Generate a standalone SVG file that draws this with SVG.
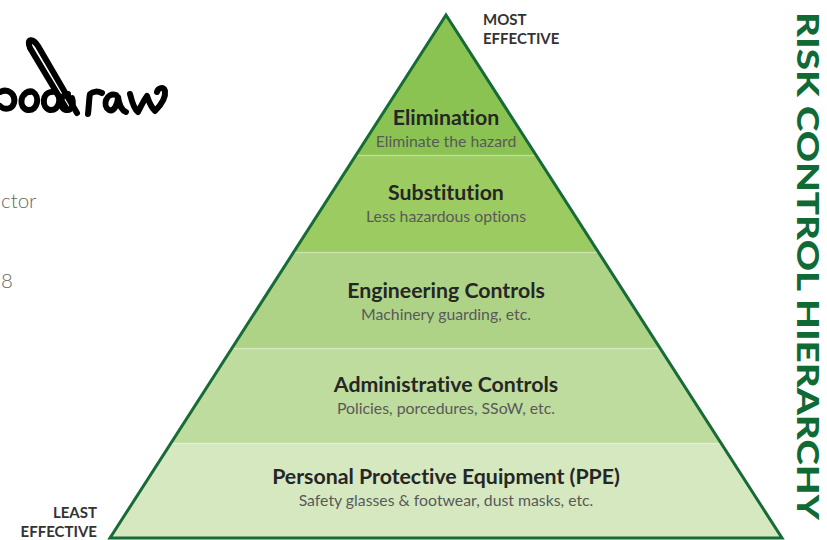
<svg xmlns="http://www.w3.org/2000/svg" width="827" height="540" viewBox="0 0 827 540">
  <style>
    text { font-variant-ligatures: none; }
    .title { font-family: Lato, "Open Sans", sans-serif; font-weight: 700; font-size: 21.3px; fill: #262626; text-anchor: middle; }
    .sub { font-family: Lato, "Open Sans", sans-serif; font-weight: 400; font-size: 15.8px; fill: #595959; text-anchor: middle; }
    .tag { font-family: Lato, "Open Sans", sans-serif; font-weight: 700; font-size: 15px; fill: #333333; }
    .side { font-family: Lato, "Open Sans", sans-serif; font-weight: 300; font-size: 20.5px; fill: #666666; }
    .sig { fill: none; stroke: #000000; stroke-width: 6; stroke-linecap: round; stroke-linejoin: round; }
    .sep { stroke: #ffffff; stroke-opacity: 0.35; stroke-width: 1.5; }
  </style>
  <defs>
    <clipPath id="pyr">
      <polygon points="446,15 782,538 110,538"/>
    </clipPath>
  </defs>

  <rect width="827" height="540" fill="#ffffff"/>

  <!-- signature fragment -->
  <g id="signature">
    <path class="sig" d="M0,92 C8,88 16,94 14,103 C12,110 4,110 0,106"/>
    <path class="sig" d="M30,92 C20,92 18,108 28,110 C38,111 40,96 33,92 C30,90 26,92 24,95"/>
    <path class="sig" d="M52,92 C42,92 41,108 50,110 C60,111 62,96 55,92"/>
    <path class="sig" d="M68,94 C60,94 58,108 66,110 C72,111 74,104 72,98"/>
    <path class="sig" d="M77,113 L38,46 C33,38 26,38 30,48 L66,108"/>
    <path class="sig" d="M88,114 C89,106 89,98 90,94 C93,91 98,91 102,93"/>
    <path class="sig" d="M116,95 C106,92 102,106 109,110 C114,112 118,104 118,97 C119,104 121,110 126,112"/>
    <path class="sig" d="M130,94 C132,102 135,110 138,112 C141,106 144,100 147,96 C149,102 152,108 155,111 C160,106 166,98 165,91 C164,86 158,88 157,92"/>
  </g>

  <!-- partially visible side texts -->
  <g id="side-texts">
    <text class="side" x="1" y="208">ctor</text>
    <text class="side" x="1" y="288">8</text>
  </g>

  <!-- pyramid levels -->
  <g id="pyramid" clip-path="url(#pyr)">
    <rect x="100" y="0" width="700" height="155" fill="#8bc352"/>
    <rect x="100" y="155" width="700" height="97" fill="#9ccb62"/>
    <rect x="100" y="252" width="700" height="96" fill="#aed387"/>
    <rect x="100" y="348" width="700" height="95" fill="#bedc9d"/>
    <rect x="100" y="443" width="700" height="100" fill="#d5e8c0"/>
    <line class="sep" x1="100" y1="155.5" x2="800" y2="155.5"/>
    <line class="sep" x1="100" y1="252.5" x2="800" y2="252.5"/>
    <line class="sep" x1="100" y1="348.5" x2="800" y2="348.5"/>
    <line class="sep" x1="100" y1="443.5" x2="800" y2="443.5"/>
  </g>
  <polygon id="outline" points="446,15 782,538 110,538" fill="none" stroke="#166b36" stroke-width="3" stroke-linejoin="miter"/>

  <g id="elimination">
    <text class="title" x="446" y="125">Elimination</text>
    <text class="sub" x="446" y="147">Eliminate the hazard</text>
  </g>
  <g id="substitution">
    <text class="title" x="446" y="200">Substitution</text>
    <text class="sub" x="446" y="222">Less hazardous options</text>
  </g>
  <g id="engineering">
    <text class="title" x="446" y="298">Engineering Controls</text>
    <text class="sub" x="446" y="320">Machinery guarding, etc.</text>
  </g>
  <g id="administrative">
    <text class="title" x="446" y="392">Administrative Controls</text>
    <text class="sub" x="446" y="414">Policies, porcedures, SSoW, etc.</text>
  </g>
  <g id="ppe">
    <text class="title" x="446" y="484">Personal Protective Equipment (PPE)</text>
    <text class="sub" x="446" y="506">Safety glasses &amp; footwear, dust masks, etc.</text>
  </g>

  <g id="labels">
    <text class="tag" x="483" y="25">MOST</text>
    <text class="tag" x="483" y="44">EFFECTIVE</text>
    <text class="tag" x="97" y="518" text-anchor="end">LEAST</text>
    <text class="tag" x="97" y="537" text-anchor="end">EFFECTIVE</text>
  </g>

  <g id="heading">
    <text x="0" y="0" transform="translate(797,12) rotate(90)" font-family="Lato, 'Open Sans', sans-serif" font-weight="900" font-size="31" fill="#0f6a36" textLength="508" lengthAdjust="spacingAndGlyphs">RISK CONTROL HIERARCHY</text>
  </g>
</svg>
